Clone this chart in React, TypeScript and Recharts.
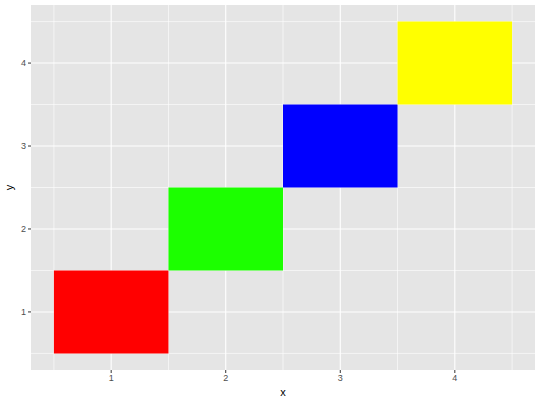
import { ComposedChart, XAxis, YAxis, CartesianGrid, ReferenceArea } from 'recharts'

const xs = [1, 2, 3, 4]
const ys = [1, 2, 3, 4]
const fills = ['#FF0000', '#1CFF00', '#0000FF', '#FFFF00']
const ticks = [1, 2, 3, 4]
const minorTicks = [0.5, 1.5, 2.5, 3.5, 4.5]

const tiles = xs.map((x, i) => ({ x, y: ys[i], fill: fills[i] }))

const tickStyle = { fontSize: 9, fill: '#4D4D4D', fontFamily: 'Liberation Sans, Arial, sans-serif' }
const titleFont = 'Liberation Sans, Arial, sans-serif'

function YTitle({ viewBox }: any) {
  const cx = 9
  const cy = viewBox.y + viewBox.height / 2
  return (
    <text x={cx} y={cy} transform={`rotate(-90 ${cx} ${cy})`} textAnchor="middle" dominantBaseline="central"
      fontSize={11} fill="#000" fontFamily={titleFont}>y</text>
  )
}

export default function App() {
  return (
    <div style={{ position: 'absolute', left: 0, top: 0, width: 540, height: 400, background: '#fff' }}>
      <ComposedChart width={540} height={400} data={tiles} margin={{ top: 5, right: 5, left: 0, bottom: 0 }}>
        <CartesianGrid fill="#E5E5E5" stroke="#FFFFFF" strokeWidth={0.6}
          horizontalValues={minorTicks} verticalValues={minorTicks} syncWithTicks={false} />
        <CartesianGrid stroke="#FFFFFF" strokeWidth={1.1}
          horizontalValues={ticks} verticalValues={ticks} syncWithTicks={false} />
        <XAxis type="number" dataKey="x" domain={[0.3, 4.7]} ticks={ticks} height={30}
          axisLine={false} tickSize={3} tickMargin={2} tickLine={{ stroke: '#333333' }} tick={tickStyle}
          allowDataOverflow
          label={{ value: 'x', position: 'insideBottom', offset: 4, fontSize: 11, fill: '#000', fontFamily: titleFont }} />
        <YAxis type="number" dataKey="y" domain={[0.3, 4.7]} ticks={ticks} width={31}
          axisLine={false} tickSize={3} tickMargin={2} tickLine={{ stroke: '#333333' }} tick={tickStyle}
          allowDataOverflow
          label={{ content: YTitle }} />
        {tiles.map((t) => (
          <ReferenceArea key={t.x} x1={t.x - 0.5} x2={t.x + 0.5} y1={t.y - 0.5} y2={t.y + 0.5}
            fill={t.fill} fillOpacity={1} stroke="none" />
        ))}
      </ComposedChart>
    </div>
  )
}
